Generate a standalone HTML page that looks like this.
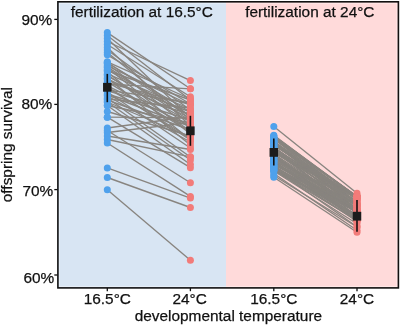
<!DOCTYPE html>
<html><head><meta charset="utf-8"><style>
html,body{margin:0;padding:0;background:#fff;width:400px;height:325px;overflow:hidden}
svg{display:block;will-change:transform}
text{font-family:"Liberation Sans",sans-serif}
</style></head><body>
<svg width="400" height="325">
<rect x="58" y="1.8" width="168" height="286.1" fill="#D8E5F3"/>
<rect x="226" y="1.8" width="172.4" height="286.1" fill="#FFDADA"/>
<g stroke="#88847f" stroke-width="1.35">
<line x1="107.3" y1="32.6" x2="190.4" y2="88.8"/>
<line x1="107.3" y1="35.5" x2="190.4" y2="100.0"/>
<line x1="107.3" y1="38.5" x2="190.4" y2="118.0"/>
<line x1="107.3" y1="41.5" x2="190.4" y2="80.6"/>
<line x1="107.3" y1="44.5" x2="190.4" y2="96.8"/>
<line x1="107.3" y1="47.5" x2="190.4" y2="126.0"/>
<line x1="107.3" y1="50.0" x2="190.4" y2="110.0"/>
<line x1="107.3" y1="52.5" x2="190.4" y2="119.5"/>
<line x1="107.3" y1="54.8" x2="190.4" y2="104.0"/>
<line x1="107.3" y1="61.8" x2="190.4" y2="99.0"/>
<line x1="107.3" y1="63.8" x2="190.4" y2="128.0"/>
<line x1="107.3" y1="65.8" x2="190.4" y2="105.0"/>
<line x1="107.3" y1="67.8" x2="190.4" y2="134.0"/>
<line x1="107.3" y1="69.8" x2="190.4" y2="116.0"/>
<line x1="107.3" y1="71.8" x2="190.4" y2="140.0"/>
<line x1="107.3" y1="73.9" x2="190.4" y2="109.0"/>
<line x1="107.3" y1="75.9" x2="190.4" y2="122.0"/>
<line x1="107.3" y1="77.9" x2="190.4" y2="145.0"/>
<line x1="107.3" y1="79.9" x2="190.4" y2="112.0"/>
<line x1="107.3" y1="81.9" x2="190.4" y2="132.0"/>
<line x1="107.3" y1="84.0" x2="190.4" y2="88.8"/>
<line x1="107.3" y1="85.9" x2="190.4" y2="126.0"/>
<line x1="107.3" y1="87.9" x2="190.4" y2="138.0"/>
<line x1="107.3" y1="89.9" x2="190.4" y2="103.0"/>
<line x1="107.3" y1="92.0" x2="190.4" y2="148.0"/>
<line x1="107.3" y1="94.0" x2="190.4" y2="120.0"/>
<line x1="107.3" y1="96.0" x2="190.4" y2="142.0"/>
<line x1="107.3" y1="98.0" x2="190.4" y2="157.0"/>
<line x1="107.3" y1="100.0" x2="190.4" y2="130.0"/>
<line x1="107.3" y1="102.0" x2="190.4" y2="160.0"/>
<line x1="107.3" y1="105.5" x2="190.4" y2="164.5"/>
<line x1="107.3" y1="111.5" x2="190.4" y2="136.0"/>
<line x1="107.3" y1="117.2" x2="190.4" y2="117.8"/>
<line x1="107.3" y1="117.2" x2="190.4" y2="167.7"/>
<line x1="107.3" y1="128.0" x2="190.4" y2="116.5"/>
<line x1="107.3" y1="132.5" x2="190.4" y2="122.5"/>
<line x1="107.3" y1="130.5" x2="190.4" y2="182.8"/>
<line x1="107.3" y1="136.0" x2="190.4" y2="149.5"/>
<line x1="107.3" y1="139.5" x2="190.4" y2="156.8"/>
<line x1="107.3" y1="143.0" x2="190.4" y2="196.4"/>
<line x1="107.3" y1="167.9" x2="190.4" y2="198.1"/>
<line x1="107.3" y1="177.5" x2="190.4" y2="207.5"/>
<line x1="107.3" y1="189.8" x2="190.4" y2="260.3"/>
<line x1="107.3" y1="63.0" x2="190.4" y2="112.0"/>
<line x1="107.3" y1="66.9" x2="190.4" y2="121.0"/>
<line x1="107.3" y1="70.5" x2="190.4" y2="100.0"/>
<line x1="107.3" y1="74.8" x2="190.4" y2="131.0"/>
<line x1="107.3" y1="78.8" x2="190.4" y2="118.0"/>
<line x1="107.3" y1="82.8" x2="190.4" y2="104.5"/>
<line x1="107.3" y1="86.8" x2="190.4" y2="140.0"/>
<line x1="107.3" y1="90.8" x2="190.4" y2="114.0"/>
<line x1="107.3" y1="95.0" x2="190.4" y2="126.5"/>
<line x1="107.3" y1="99.0" x2="190.4" y2="108.0"/>
<line x1="107.3" y1="102.0" x2="190.4" y2="137.0"/>
<line x1="107.3" y1="105.5" x2="190.4" y2="123.0"/>
<line x1="107.3" y1="62.5" x2="190.4" y2="116.0"/>
<line x1="273.8" y1="126.5" x2="357.0" y2="193.3"/>
<line x1="273.8" y1="135.3" x2="357.0" y2="197.5"/>
<line x1="273.8" y1="135.8" x2="357.0" y2="196.5"/>
<line x1="273.8" y1="136.4" x2="357.0" y2="196.5"/>
<line x1="273.8" y1="137.1" x2="357.0" y2="196.5"/>
<line x1="273.8" y1="137.7" x2="357.0" y2="196.5"/>
<line x1="273.8" y1="138.4" x2="357.0" y2="199.9"/>
<line x1="273.8" y1="138.5" x2="357.0" y2="196.5"/>
<line x1="273.8" y1="138.7" x2="357.0" y2="203.7"/>
<line x1="273.8" y1="139.2" x2="357.0" y2="196.5"/>
<line x1="273.8" y1="141.3" x2="357.0" y2="210.3"/>
<line x1="273.8" y1="141.3" x2="357.0" y2="198.5"/>
<line x1="273.8" y1="141.2" x2="357.0" y2="209.6"/>
<line x1="273.8" y1="141.6" x2="357.0" y2="202.1"/>
<line x1="273.8" y1="142.4" x2="357.0" y2="201.7"/>
<line x1="273.8" y1="143.4" x2="357.0" y2="203.7"/>
<line x1="273.8" y1="144.0" x2="357.0" y2="206.9"/>
<line x1="273.8" y1="144.9" x2="357.0" y2="196.5"/>
<line x1="273.8" y1="145.2" x2="357.0" y2="198.9"/>
<line x1="273.8" y1="145.5" x2="357.0" y2="196.7"/>
<line x1="273.8" y1="147.2" x2="357.0" y2="217.0"/>
<line x1="273.8" y1="147.3" x2="357.0" y2="203.5"/>
<line x1="273.8" y1="147.3" x2="357.0" y2="204.9"/>
<line x1="273.8" y1="147.5" x2="357.0" y2="210.3"/>
<line x1="273.8" y1="149.2" x2="357.0" y2="196.5"/>
<line x1="273.8" y1="149.2" x2="357.0" y2="213.1"/>
<line x1="273.8" y1="150.7" x2="357.0" y2="205.6"/>
<line x1="273.8" y1="150.1" x2="357.0" y2="205.6"/>
<line x1="273.8" y1="151.8" x2="357.0" y2="196.5"/>
<line x1="273.8" y1="151.5" x2="357.0" y2="210.1"/>
<line x1="273.8" y1="151.6" x2="357.0" y2="198.4"/>
<line x1="273.8" y1="152.5" x2="357.0" y2="198.3"/>
<line x1="273.8" y1="152.8" x2="357.0" y2="198.5"/>
<line x1="273.8" y1="154.4" x2="357.0" y2="220.5"/>
<line x1="273.8" y1="154.0" x2="357.0" y2="208.1"/>
<line x1="273.8" y1="154.5" x2="357.0" y2="211.6"/>
<line x1="273.8" y1="156.3" x2="357.0" y2="212.6"/>
<line x1="273.8" y1="156.3" x2="357.0" y2="217.1"/>
<line x1="273.8" y1="156.5" x2="357.0" y2="208.9"/>
<line x1="273.8" y1="157.8" x2="357.0" y2="206.0"/>
<line x1="273.8" y1="157.5" x2="357.0" y2="205.7"/>
<line x1="273.8" y1="158.3" x2="357.0" y2="212.6"/>
<line x1="273.8" y1="160.0" x2="357.0" y2="212.6"/>
<line x1="273.8" y1="160.5" x2="357.0" y2="205.3"/>
<line x1="273.8" y1="160.0" x2="357.0" y2="200.4"/>
<line x1="273.8" y1="161.3" x2="357.0" y2="220.0"/>
<line x1="273.8" y1="161.0" x2="357.0" y2="216.7"/>
<line x1="273.8" y1="161.8" x2="357.0" y2="211.9"/>
<line x1="273.8" y1="163.2" x2="357.0" y2="209.7"/>
<line x1="273.8" y1="162.7" x2="357.0" y2="218.0"/>
<line x1="273.8" y1="163.3" x2="357.0" y2="208.6"/>
<line x1="273.8" y1="164.7" x2="357.0" y2="210.9"/>
<line x1="273.8" y1="164.9" x2="357.0" y2="196.9"/>
<line x1="273.8" y1="165.7" x2="357.0" y2="219.3"/>
<line x1="273.8" y1="166.4" x2="357.0" y2="217.4"/>
<line x1="273.8" y1="166.3" x2="357.0" y2="211.5"/>
<line x1="273.8" y1="168.1" x2="357.0" y2="217.3"/>
<line x1="273.8" y1="167.6" x2="357.0" y2="210.6"/>
<line x1="273.8" y1="169.0" x2="357.0" y2="220.0"/>
<line x1="273.8" y1="170.0" x2="357.0" y2="214.3"/>
<line x1="273.8" y1="170.4" x2="357.0" y2="210.5"/>
<line x1="273.8" y1="169.8" x2="357.0" y2="212.2"/>
<line x1="273.8" y1="170.3" x2="357.0" y2="220.5"/>
<line x1="273.8" y1="166.0" x2="357.0" y2="221.5"/>
<line x1="273.8" y1="168.5" x2="357.0" y2="226.8"/>
<line x1="273.8" y1="171.0" x2="357.0" y2="223.8"/>
<line x1="273.8" y1="173.5" x2="357.0" y2="230.2"/>
<line x1="273.8" y1="175.5" x2="357.0" y2="227.0"/>
<line x1="273.8" y1="177.2" x2="357.0" y2="232.2"/>
</g>
<g fill="#4FA1EC"><circle cx="107.3" cy="32.6" r="3.5"/><circle cx="107.3" cy="35.5" r="3.5"/><circle cx="107.3" cy="38.5" r="3.5"/><circle cx="107.3" cy="41.5" r="3.5"/><circle cx="107.3" cy="44.5" r="3.5"/><circle cx="107.3" cy="47.5" r="3.5"/><circle cx="107.3" cy="50.0" r="3.5"/><circle cx="107.3" cy="52.5" r="3.5"/><circle cx="107.3" cy="54.8" r="3.5"/><circle cx="107.3" cy="61.8" r="3.5"/><circle cx="107.3" cy="63.8" r="3.5"/><circle cx="107.3" cy="65.8" r="3.5"/><circle cx="107.3" cy="67.8" r="3.5"/><circle cx="107.3" cy="69.8" r="3.5"/><circle cx="107.3" cy="71.8" r="3.5"/><circle cx="107.3" cy="73.9" r="3.5"/><circle cx="107.3" cy="75.9" r="3.5"/><circle cx="107.3" cy="77.9" r="3.5"/><circle cx="107.3" cy="79.9" r="3.5"/><circle cx="107.3" cy="81.9" r="3.5"/><circle cx="107.3" cy="84.0" r="3.5"/><circle cx="107.3" cy="85.9" r="3.5"/><circle cx="107.3" cy="87.9" r="3.5"/><circle cx="107.3" cy="89.9" r="3.5"/><circle cx="107.3" cy="92.0" r="3.5"/><circle cx="107.3" cy="94.0" r="3.5"/><circle cx="107.3" cy="96.0" r="3.5"/><circle cx="107.3" cy="98.0" r="3.5"/><circle cx="107.3" cy="100.0" r="3.5"/><circle cx="107.3" cy="102.0" r="3.5"/><circle cx="107.3" cy="105.5" r="3.5"/><circle cx="107.3" cy="111.5" r="3.5"/><circle cx="107.3" cy="117.2" r="3.5"/><circle cx="107.3" cy="117.2" r="3.5"/><circle cx="107.3" cy="128.0" r="3.5"/><circle cx="107.3" cy="132.5" r="3.5"/><circle cx="107.3" cy="130.5" r="3.5"/><circle cx="107.3" cy="136.0" r="3.5"/><circle cx="107.3" cy="139.5" r="3.5"/><circle cx="107.3" cy="143.0" r="3.5"/><circle cx="107.3" cy="167.9" r="3.5"/><circle cx="107.3" cy="177.5" r="3.5"/><circle cx="107.3" cy="189.8" r="3.5"/><circle cx="107.3" cy="63.0" r="3.5"/><circle cx="107.3" cy="66.9" r="3.5"/><circle cx="107.3" cy="70.5" r="3.5"/><circle cx="107.3" cy="74.8" r="3.5"/><circle cx="107.3" cy="78.8" r="3.5"/><circle cx="107.3" cy="82.8" r="3.5"/><circle cx="107.3" cy="86.8" r="3.5"/><circle cx="107.3" cy="90.8" r="3.5"/><circle cx="107.3" cy="95.0" r="3.5"/><circle cx="107.3" cy="99.0" r="3.5"/><circle cx="107.3" cy="102.0" r="3.5"/><circle cx="107.3" cy="105.5" r="3.5"/><circle cx="107.3" cy="62.5" r="3.5"/></g>
<g fill="#F27B79"><circle cx="190.4" cy="88.8" r="3.5"/><circle cx="190.4" cy="100.0" r="3.5"/><circle cx="190.4" cy="118.0" r="3.5"/><circle cx="190.4" cy="80.6" r="3.5"/><circle cx="190.4" cy="96.8" r="3.5"/><circle cx="190.4" cy="126.0" r="3.5"/><circle cx="190.4" cy="110.0" r="3.5"/><circle cx="190.4" cy="119.5" r="3.5"/><circle cx="190.4" cy="104.0" r="3.5"/><circle cx="190.4" cy="99.0" r="3.5"/><circle cx="190.4" cy="128.0" r="3.5"/><circle cx="190.4" cy="105.0" r="3.5"/><circle cx="190.4" cy="134.0" r="3.5"/><circle cx="190.4" cy="116.0" r="3.5"/><circle cx="190.4" cy="140.0" r="3.5"/><circle cx="190.4" cy="109.0" r="3.5"/><circle cx="190.4" cy="122.0" r="3.5"/><circle cx="190.4" cy="145.0" r="3.5"/><circle cx="190.4" cy="112.0" r="3.5"/><circle cx="190.4" cy="132.0" r="3.5"/><circle cx="190.4" cy="88.8" r="3.5"/><circle cx="190.4" cy="126.0" r="3.5"/><circle cx="190.4" cy="138.0" r="3.5"/><circle cx="190.4" cy="103.0" r="3.5"/><circle cx="190.4" cy="148.0" r="3.5"/><circle cx="190.4" cy="120.0" r="3.5"/><circle cx="190.4" cy="142.0" r="3.5"/><circle cx="190.4" cy="157.0" r="3.5"/><circle cx="190.4" cy="130.0" r="3.5"/><circle cx="190.4" cy="160.0" r="3.5"/><circle cx="190.4" cy="164.5" r="3.5"/><circle cx="190.4" cy="136.0" r="3.5"/><circle cx="190.4" cy="117.8" r="3.5"/><circle cx="190.4" cy="167.7" r="3.5"/><circle cx="190.4" cy="116.5" r="3.5"/><circle cx="190.4" cy="122.5" r="3.5"/><circle cx="190.4" cy="182.8" r="3.5"/><circle cx="190.4" cy="149.5" r="3.5"/><circle cx="190.4" cy="156.8" r="3.5"/><circle cx="190.4" cy="196.4" r="3.5"/><circle cx="190.4" cy="198.1" r="3.5"/><circle cx="190.4" cy="207.5" r="3.5"/><circle cx="190.4" cy="260.3" r="3.5"/><circle cx="190.4" cy="112.0" r="3.5"/><circle cx="190.4" cy="121.0" r="3.5"/><circle cx="190.4" cy="100.0" r="3.5"/><circle cx="190.4" cy="131.0" r="3.5"/><circle cx="190.4" cy="118.0" r="3.5"/><circle cx="190.4" cy="104.5" r="3.5"/><circle cx="190.4" cy="140.0" r="3.5"/><circle cx="190.4" cy="114.0" r="3.5"/><circle cx="190.4" cy="126.5" r="3.5"/><circle cx="190.4" cy="108.0" r="3.5"/><circle cx="190.4" cy="137.0" r="3.5"/><circle cx="190.4" cy="123.0" r="3.5"/><circle cx="190.4" cy="116.0" r="3.5"/></g>
<g fill="#4FA1EC"><circle cx="273.8" cy="126.5" r="3.5"/><circle cx="273.8" cy="135.3" r="3.5"/><circle cx="273.8" cy="135.8" r="3.5"/><circle cx="273.8" cy="136.4" r="3.5"/><circle cx="273.8" cy="137.1" r="3.5"/><circle cx="273.8" cy="137.7" r="3.5"/><circle cx="273.8" cy="138.4" r="3.5"/><circle cx="273.8" cy="138.5" r="3.5"/><circle cx="273.8" cy="138.7" r="3.5"/><circle cx="273.8" cy="139.2" r="3.5"/><circle cx="273.8" cy="141.3" r="3.5"/><circle cx="273.8" cy="141.3" r="3.5"/><circle cx="273.8" cy="141.2" r="3.5"/><circle cx="273.8" cy="141.6" r="3.5"/><circle cx="273.8" cy="142.4" r="3.5"/><circle cx="273.8" cy="143.4" r="3.5"/><circle cx="273.8" cy="144.0" r="3.5"/><circle cx="273.8" cy="144.9" r="3.5"/><circle cx="273.8" cy="145.2" r="3.5"/><circle cx="273.8" cy="145.5" r="3.5"/><circle cx="273.8" cy="147.2" r="3.5"/><circle cx="273.8" cy="147.3" r="3.5"/><circle cx="273.8" cy="147.3" r="3.5"/><circle cx="273.8" cy="147.5" r="3.5"/><circle cx="273.8" cy="149.2" r="3.5"/><circle cx="273.8" cy="149.2" r="3.5"/><circle cx="273.8" cy="150.7" r="3.5"/><circle cx="273.8" cy="150.1" r="3.5"/><circle cx="273.8" cy="151.8" r="3.5"/><circle cx="273.8" cy="151.5" r="3.5"/><circle cx="273.8" cy="151.6" r="3.5"/><circle cx="273.8" cy="152.5" r="3.5"/><circle cx="273.8" cy="152.8" r="3.5"/><circle cx="273.8" cy="154.4" r="3.5"/><circle cx="273.8" cy="154.0" r="3.5"/><circle cx="273.8" cy="154.5" r="3.5"/><circle cx="273.8" cy="156.3" r="3.5"/><circle cx="273.8" cy="156.3" r="3.5"/><circle cx="273.8" cy="156.5" r="3.5"/><circle cx="273.8" cy="157.8" r="3.5"/><circle cx="273.8" cy="157.5" r="3.5"/><circle cx="273.8" cy="158.3" r="3.5"/><circle cx="273.8" cy="160.0" r="3.5"/><circle cx="273.8" cy="160.5" r="3.5"/><circle cx="273.8" cy="160.0" r="3.5"/><circle cx="273.8" cy="161.3" r="3.5"/><circle cx="273.8" cy="161.0" r="3.5"/><circle cx="273.8" cy="161.8" r="3.5"/><circle cx="273.8" cy="163.2" r="3.5"/><circle cx="273.8" cy="162.7" r="3.5"/><circle cx="273.8" cy="163.3" r="3.5"/><circle cx="273.8" cy="164.7" r="3.5"/><circle cx="273.8" cy="164.9" r="3.5"/><circle cx="273.8" cy="165.7" r="3.5"/><circle cx="273.8" cy="166.4" r="3.5"/><circle cx="273.8" cy="166.3" r="3.5"/><circle cx="273.8" cy="168.1" r="3.5"/><circle cx="273.8" cy="167.6" r="3.5"/><circle cx="273.8" cy="169.0" r="3.5"/><circle cx="273.8" cy="170.0" r="3.5"/><circle cx="273.8" cy="170.4" r="3.5"/><circle cx="273.8" cy="169.8" r="3.5"/><circle cx="273.8" cy="170.3" r="3.5"/><circle cx="273.8" cy="166.0" r="3.5"/><circle cx="273.8" cy="168.5" r="3.5"/><circle cx="273.8" cy="171.0" r="3.5"/><circle cx="273.8" cy="173.5" r="3.5"/><circle cx="273.8" cy="175.5" r="3.5"/><circle cx="273.8" cy="177.2" r="3.5"/></g>
<g fill="#F27B79"><circle cx="357.0" cy="193.3" r="3.5"/><circle cx="357.0" cy="197.5" r="3.5"/><circle cx="357.0" cy="196.5" r="3.5"/><circle cx="357.0" cy="196.5" r="3.5"/><circle cx="357.0" cy="196.5" r="3.5"/><circle cx="357.0" cy="196.5" r="3.5"/><circle cx="357.0" cy="199.9" r="3.5"/><circle cx="357.0" cy="196.5" r="3.5"/><circle cx="357.0" cy="203.7" r="3.5"/><circle cx="357.0" cy="196.5" r="3.5"/><circle cx="357.0" cy="210.3" r="3.5"/><circle cx="357.0" cy="198.5" r="3.5"/><circle cx="357.0" cy="209.6" r="3.5"/><circle cx="357.0" cy="202.1" r="3.5"/><circle cx="357.0" cy="201.7" r="3.5"/><circle cx="357.0" cy="203.7" r="3.5"/><circle cx="357.0" cy="206.9" r="3.5"/><circle cx="357.0" cy="196.5" r="3.5"/><circle cx="357.0" cy="198.9" r="3.5"/><circle cx="357.0" cy="196.7" r="3.5"/><circle cx="357.0" cy="217.0" r="3.5"/><circle cx="357.0" cy="203.5" r="3.5"/><circle cx="357.0" cy="204.9" r="3.5"/><circle cx="357.0" cy="210.3" r="3.5"/><circle cx="357.0" cy="196.5" r="3.5"/><circle cx="357.0" cy="213.1" r="3.5"/><circle cx="357.0" cy="205.6" r="3.5"/><circle cx="357.0" cy="205.6" r="3.5"/><circle cx="357.0" cy="196.5" r="3.5"/><circle cx="357.0" cy="210.1" r="3.5"/><circle cx="357.0" cy="198.4" r="3.5"/><circle cx="357.0" cy="198.3" r="3.5"/><circle cx="357.0" cy="198.5" r="3.5"/><circle cx="357.0" cy="220.5" r="3.5"/><circle cx="357.0" cy="208.1" r="3.5"/><circle cx="357.0" cy="211.6" r="3.5"/><circle cx="357.0" cy="212.6" r="3.5"/><circle cx="357.0" cy="217.1" r="3.5"/><circle cx="357.0" cy="208.9" r="3.5"/><circle cx="357.0" cy="206.0" r="3.5"/><circle cx="357.0" cy="205.7" r="3.5"/><circle cx="357.0" cy="212.6" r="3.5"/><circle cx="357.0" cy="212.6" r="3.5"/><circle cx="357.0" cy="205.3" r="3.5"/><circle cx="357.0" cy="200.4" r="3.5"/><circle cx="357.0" cy="220.0" r="3.5"/><circle cx="357.0" cy="216.7" r="3.5"/><circle cx="357.0" cy="211.9" r="3.5"/><circle cx="357.0" cy="209.7" r="3.5"/><circle cx="357.0" cy="218.0" r="3.5"/><circle cx="357.0" cy="208.6" r="3.5"/><circle cx="357.0" cy="210.9" r="3.5"/><circle cx="357.0" cy="196.9" r="3.5"/><circle cx="357.0" cy="219.3" r="3.5"/><circle cx="357.0" cy="217.4" r="3.5"/><circle cx="357.0" cy="211.5" r="3.5"/><circle cx="357.0" cy="217.3" r="3.5"/><circle cx="357.0" cy="210.6" r="3.5"/><circle cx="357.0" cy="220.0" r="3.5"/><circle cx="357.0" cy="214.3" r="3.5"/><circle cx="357.0" cy="210.5" r="3.5"/><circle cx="357.0" cy="212.2" r="3.5"/><circle cx="357.0" cy="220.5" r="3.5"/><circle cx="357.0" cy="221.5" r="3.5"/><circle cx="357.0" cy="226.8" r="3.5"/><circle cx="357.0" cy="223.8" r="3.5"/><circle cx="357.0" cy="230.2" r="3.5"/><circle cx="357.0" cy="227.0" r="3.5"/><circle cx="357.0" cy="232.2" r="3.5"/></g>
<line x1="107.3" y1="73.9" x2="107.3" y2="102.2" stroke="#111" stroke-width="1.6"/><rect x="103.05" y="82.89999999999999" width="8.5" height="8.8" fill="#1c1c1c"/>
<line x1="190.4" y1="115.8" x2="190.4" y2="145.8" stroke="#111" stroke-width="1.6"/><rect x="186.15" y="126.4" width="8.5" height="8.8" fill="#1c1c1c"/>
<line x1="273.8" y1="138.6" x2="273.8" y2="165.6" stroke="#111" stroke-width="1.6"/><rect x="269.55" y="148.0" width="8.5" height="8.8" fill="#1c1c1c"/>
<line x1="357.0" y1="200.0" x2="357.0" y2="231.7" stroke="#111" stroke-width="1.6"/><rect x="352.75" y="211.79999999999998" width="8.5" height="8.8" fill="#1c1c1c"/>
<rect x="59.4" y="3.3" width="337.5" height="283.1" fill="none" stroke="#fff" stroke-opacity="0.45" stroke-width="0.8"/>
<rect x="57.9" y="1.8" width="340.5" height="286.1" fill="none" stroke="#111" stroke-width="1.6"/>
<g stroke="#111" stroke-width="1.3">
<line x1="54.3" y1="19.4" x2="57.5" y2="19.4"/>
<line x1="54.3" y1="104.4" x2="57.5" y2="104.4"/>
<line x1="54.3" y1="189.6" x2="57.5" y2="189.6"/>
<line x1="54.3" y1="275" x2="57.5" y2="275"/>
<line x1="107.3" y1="288" x2="107.3" y2="291.2"/>
<line x1="190.4" y1="288" x2="190.4" y2="291.2"/>
<line x1="273.8" y1="288" x2="273.8" y2="291.2"/>
<line x1="357.0" y1="288" x2="357.0" y2="291.2"/>
</g>
<g font-size="15.4" fill="#111" stroke="#111" stroke-width="0.25">
<text x="52.3" y="24.5" text-anchor="end">90%</text>
<text x="52.3" y="109.3" text-anchor="end">80%</text>
<text x="53.3" y="195.9" text-anchor="end">70%</text>
<text x="54.3" y="282.6" text-anchor="end">60%</text>
<text x="107.3" y="304.4" text-anchor="middle">16.5°C</text>
<text x="189.6" y="304.4" text-anchor="middle">24°C</text>
<text x="273.8" y="304.4" text-anchor="middle">16.5°C</text>
<text x="357.0" y="304.4" text-anchor="middle">24°C</text>
<text x="228.4" y="320.6" text-anchor="middle">developmental temperature</text>
<text x="141.8" y="17.2" text-anchor="middle">fertilization at 16.5°C</text>
<text x="309.8" y="17.2" text-anchor="middle">fertilization at 24°C</text>
<text transform="translate(11.9,144.6) rotate(-90)" text-anchor="middle">offspring survival</text>
</g>
</svg>
</body></html>
